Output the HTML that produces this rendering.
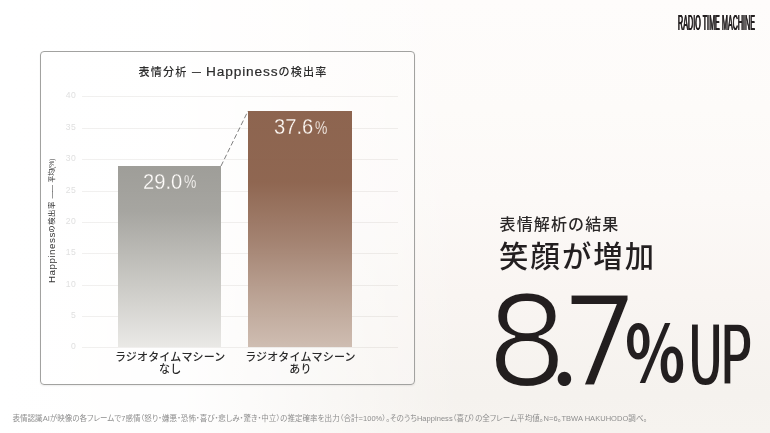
<!DOCTYPE html>
<html lang="ja">
<head>
<meta charset="utf-8">
<title>表情分析 — Happinessの検出率</title>
<style>
html,body{margin:0;padding:0;}
body{width:770px;height:433px;overflow:hidden;position:relative;
  font-family:"Liberation Sans","Noto Sans CJK JP",sans-serif;color:#231f20;
  background:#fdfbf9;}
#bg{position:absolute;left:0;top:0;width:770px;height:433px;
  background:
   linear-gradient(90deg,#fff 0%,rgba(255,255,255,.92) 24%,rgba(255,255,255,.5) 40%,rgba(255,255,255,0) 60%),
   linear-gradient(180deg,#fefcfb 0%,#fdfbf9 25%,#fcf9f7 46%,#f9f5f2 68%,#f5f2ee 91%,#f6f3ef 100%);}
.abs{position:absolute;white-space:nowrap;}
#card{position:absolute;left:40px;top:51px;width:373px;height:332px;border:1px solid #a2a2a0;border-radius:4px;
  background:rgba(255,255,255,.15);box-shadow:0 1px 2px rgba(0,0,0,.07);}
#title{left:0;top:62px;height:20px;line-height:20px;font-size:11.1px;font-weight:500;letter-spacing:1.17px;color:#2b2b2b;}
#title span{position:absolute;top:0;display:block;}
#t1{left:138.4px;}
#t2{left:192px;top:-1px !important;letter-spacing:0;transform-origin:0 50%;transform:scaleX(.8);-webkit-text-stroke:.3px #2b2b2b;}
#t3{left:206px;font-size:13.7px;letter-spacing:.86px;font-weight:400;-webkit-text-stroke:.2px #2b2b2b;}
#t4{left:278.4px;}
.grid{position:absolute;left:82px;width:315.5px;height:1px;background:rgba(70,50,40,.075);}
.tick{position:absolute;left:50px;width:26.3px;text-align:right;font-size:8.6px;line-height:10px;height:10px;color:#e0e0e0;letter-spacing:.5px;}
#ylab{left:47.4px;top:282.6px;width:130px;height:10px;font-size:7px;line-height:10px;color:#333;letter-spacing:.8px;transform-origin:0 0;transform:rotate(-90deg);}
#ylab span{position:absolute;top:0;display:block;}
#y1{left:0;font-size:9.8px;letter-spacing:.5px;}
#y2{left:50.3px;font-size:7.4px;letter-spacing:.5px;}
#y3{left:84.6px;letter-spacing:-.5px;}
#y4{left:100.4px;letter-spacing:0;font-size:6.8px;}
.bar{position:absolute;opacity:.965;}
#b1{left:118px;width:103px;top:166px;height:181px;background:linear-gradient(180deg,#9b9a95 0%,#a3a29d 25%,#c4c3be 60%,#e9e8e5 100%);}
#b2{left:248px;width:104px;top:111px;height:236px;background:linear-gradient(180deg,#895f49 0%,#8b614b 30%,#a07e6c 55%,#b89f90 78%,#cdbbaf 100%);}
.val{position:absolute;color:#fff9f4;font-size:21.2px;line-height:24px;height:24px;white-space:nowrap;mix-blend-mode:screen;-webkit-text-stroke:.3px #000;}
.val i{font-style:normal;position:absolute;left:0;top:0;transform-origin:0 50%;transform:scaleX(.95);}
.val span{position:absolute;left:40.8px;top:.5px;font-size:18.8px;transform-origin:0 50%;transform:scaleX(.74);}
.xl{position:absolute;text-align:center;font-size:11px;line-height:12.3px;font-weight:500;color:#2a2a2a;width:140px;letter-spacing:.15px;}
#foot{left:12.5px;top:412px;font-size:7.5px;line-height:13px;color:#8e8e8e;font-feature-settings:"palt";letter-spacing:.04px;}
#h1{left:499.6px;top:212.8px;font-size:16px;line-height:24px;letter-spacing:1.12px;font-weight:500;color:#2a2727;}
#h2{left:499.1px;top:236.6px;font-size:29.3px;line-height:40px;letter-spacing:2.1px;font-weight:500;color:#231f20;}
#logo{left:678.4px;top:9.6px;font-size:22px;line-height:26px;font-weight:400;transform-origin:0 0;transform:scaleX(.32);color:#231f20;text-shadow:.75px 0 0 #231f20,-.75px 0 0 #231f20;letter-spacing:.3px;}
#big{left:0;top:0;width:770px;height:433px;color:#231f20;}
#big span{position:absolute;display:block;white-space:nowrap;line-height:1;transform-origin:0 100%;}
#big .dv{font-family:"DejaVu Sans","Liberation Sans",sans-serif;mix-blend-mode:multiply;-webkit-text-stroke-color:#fff;}
#big .nt{font-family:"Noto Sans CJK JP","Liberation Sans",sans-serif;}
#big .th{left:0;top:0;width:770px;height:433px;filter:url(#thin);mix-blend-mode:multiply;}
#big .dv2{font-family:"DejaVu Sans","Liberation Sans",sans-serif;}
#n8,#n7{font-size:124.4px;-webkit-text-stroke:1.95px #fff;}
#n8{left:484.5px;top:280.2px;transform:scaleX(1.06);}
#dot{left:550.3px;top:290.2px;font-size:102px;}
#n7{left:558.7px;top:281.2px;transform:scaleX(1.03);}
#pct{left:625.2px;top:309.3px;font-size:78.2px;font-weight:700;transform:scaleX(.8);}
#up{left:686px;top:312.7px;font-size:88.6px;font-weight:700;-webkit-text-stroke-width:5.9px;transform:scaleX(.543);letter-spacing:-12.3px;}
</style>
</head>
<body>
<div id="bg"></div>
<div id="card"></div>
<div id="title" class="abs"><span id="t1">表情分析</span><span id="t2"> — </span><span id="t3">Happiness</span><span id="t4">の検出率</span></div>


<div class="tick" style="top:90px">40</div>
<div class="tick" style="top:121.5px">35</div>
<div class="tick" style="top:153px">30</div>
<div class="tick" style="top:184.5px">25</div>
<div class="tick" style="top:216px">20</div>
<div class="tick" style="top:247px">15</div>
<div class="tick" style="top:278.5px">10</div>
<div class="tick" style="top:310px">5</div>
<div class="tick" style="top:341px">0</div>

<div id="ylab" class="abs"><span id="y1">Happiness</span><span id="y2">の検出率 </span><span id="y3">—— </span><span id="y4">平均(%)</span></div>

<div class="grid" style="top:96px"></div>
<div class="grid" style="top:127.5px"></div>
<div class="grid" style="top:159px"></div>
<div class="grid" style="top:190.5px"></div>
<div class="grid" style="top:222px"></div>
<div class="grid" style="top:253px"></div>
<div class="grid" style="top:284.5px"></div>
<div class="grid" style="top:316px"></div>
<div class="grid" style="top:347px"></div>
<div id="b1" class="bar"></div>
<div id="b2" class="bar"></div>
<svg class="abs" style="left:0;top:0" width="770" height="433" viewBox="0 0 770 433"><line x1="221" y1="166" x2="248" y2="111" stroke="#707070" stroke-width="0.9" stroke-dasharray="5 2.6"/></svg>
<div class="val" id="v1" style="left:143px;top:169.5px"><i>29.0</i><span>%</span></div>
<div class="val" id="v2" style="left:274px;top:115px"><i>37.6</i><span>%</span></div>

<div class="xl" style="left:100.2px;top:351px">ラジオタイムマシーン<br>なし</div>
<div class="xl" style="left:230.4px;top:351px">ラジオタイムマシーン<br>あり</div>

<div id="foot" class="abs">表情認識AIが映像の各フレームで7感情（怒り・嫌悪・恐怖・喜び・悲しみ・驚き・中立）の推定確率を出力（合計=100%）。そのうちHappiness（喜び）の全フレーム平均値。N=6。TBWA HAKUHODO調べ。</div>

<div id="logo" class="abs">RADIO TIME MACHINE</div>
<div id="h1" class="abs">表情解析の結果</div>
<div id="h2" class="abs">笑顔が増加</div>

<svg width="0" height="0" style="position:absolute;left:0;top:0"><defs><filter id="thin" x="-5%" y="-5%" width="110%" height="110%" color-interpolation-filters="sRGB"><feMorphology operator="dilate" radius="1 0"/></filter></defs></svg>
<div id="big" class="abs"><span id="w8" class="th"><span id="n8" class="dv2">8</span></span><span id="dot" class="nt">.</span><span id="w7" class="th"><span id="n7" class="dv2">7</span></span><span id="pct" class="nt">%</span><span id="up" class="dv">UP</span></div>
</body>
</html>
